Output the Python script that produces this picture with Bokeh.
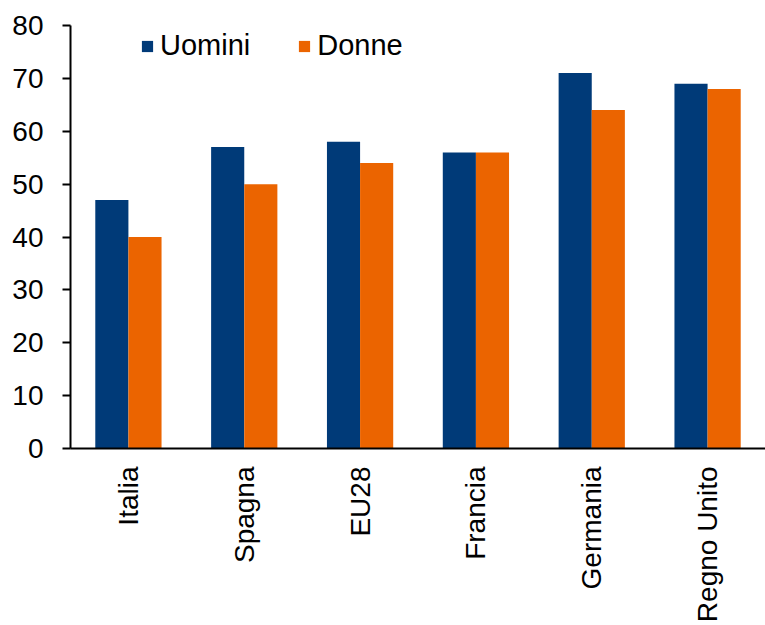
from bokeh.plotting import figure
from bokeh.models import ColumnDataSource, FactorRange, Range1d, Legend, LegendItem, SingleIntervalTicker
from bokeh.transform import dodge
from bokeh.embed import file_html
from bokeh.resources import INLINE
import math

categories = ["Italia", "Spagna", "EU28", "Francia", "Germania", "Regno Unito"]
uomini = [47, 57, 58, 56, 71, 69]
donne = [40, 50, 54, 56, 64, 68]

BLUE = "#003A78"
ORANGE = "#EB6400"
FONT = "Liberation Sans"

src = ColumnDataSource(dict(cat=categories, uomini=uomini, donne=donne))

p = figure(width=765, height=625, x_range=FactorRange(factors=categories, range_padding=0),
           y_range=Range1d(0, 80), output_backend="svg", toolbar_location=None,
           min_border_left=70, min_border_right=0, min_border_top=25, min_border_bottom=177)
p.outline_line_color = None
p.grid.visible = False
p.background_fill_color = "white"
p.border_fill_color = "white"

w = 0.286
r1 = p.vbar(x=dodge("cat", -w / 2, range=p.x_range), top="uomini", width=w, source=src,
            fill_color=BLUE, line_color=None)
r2 = p.vbar(x=dodge("cat", w / 2, range=p.x_range), top="donne", width=w, source=src,
            fill_color=ORANGE, line_color=None)

p.yaxis.ticker = SingleIntervalTicker(interval=10)
p.yaxis.minor_tick_line_color = None
p.yaxis.major_tick_out = 8
p.yaxis.major_tick_in = 0
p.yaxis.axis_line_width = 2
p.yaxis.major_tick_line_width = 2
p.yaxis.major_label_text_font = FONT
p.yaxis.major_label_text_font_size = "28px"
p.yaxis.major_label_text_color = "black"
p.yaxis.major_label_standoff = 19

p.xaxis.major_tick_line_color = None
p.xaxis.minor_tick_line_color = None
p.xaxis.axis_line_width = 2
p.xaxis.major_label_orientation = math.pi / 2
p.xaxis.major_label_text_font = FONT
p.xaxis.major_label_text_font_size = "28px"
p.xaxis.major_label_text_color = "black"
p.xaxis.major_label_standoff = 12

legend = Legend(items=[LegendItem(label="Uomini", renderers=[r1]),
                       LegendItem(label="Donne", renderers=[r2])],
                orientation="horizontal", location=(70, 386),
                border_line_color=None, background_fill_alpha=0,
                label_text_font=FONT, label_text_font_size="29px", label_text_color="black",
                glyph_width=14, glyph_height=14, spacing=47, padding=0, margin=0,
                label_standoff=6)
p.add_layout(legend)

open("out.html", "w").write(file_html(p, INLINE))
